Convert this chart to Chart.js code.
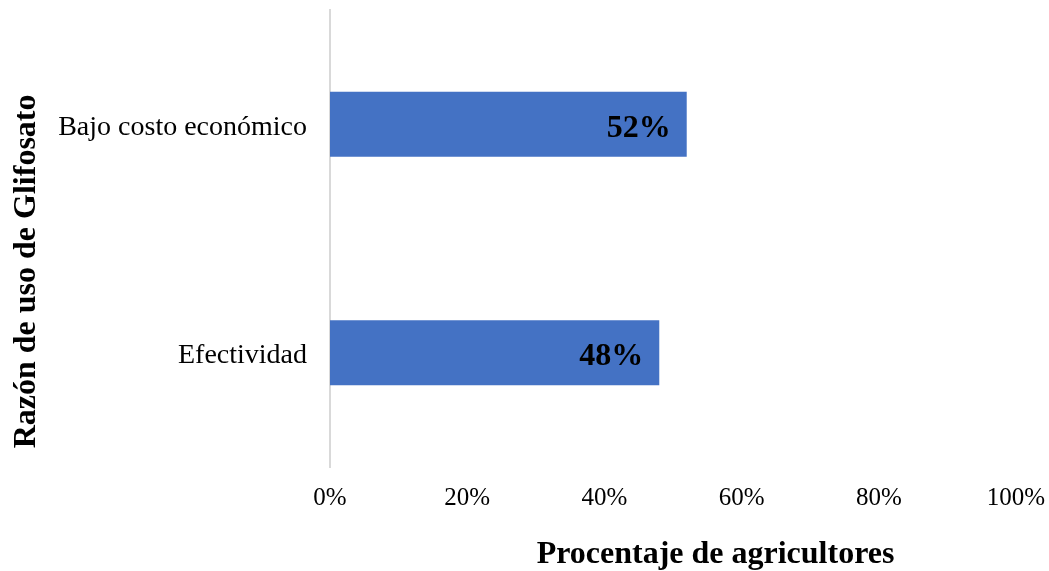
<!DOCTYPE html>
<html lang="es">
<head>
    <meta charset="UTF-8">
    <title>Razón de uso de Glifosato</title>
    <script src="https://cdn.jsdelivr.net/npm/chart.js"></script>
    <style>
        body { margin: 0; background: #fff; }
        #wrap { width: 1049px; height: 571px; }
    </style>
</head>
<body>
    <div id="wrap"><canvas id="razonChart" width="1049" height="571"></canvas></div>
    <script>
        const categories = ['Bajo costo económico', 'Efectividad'];
        const percentages = [52, 48];
        const xTicks = [0, 20, 40, 60, 80, 100];
        const xTitle = 'Procentaje de agricultores';
        const yTitle = 'Razón de uso de Glifosato';

        const serif = '"Liberation Serif", "Times New Roman", serif';

        // value labels inside the bars, right aligned
        const barLabels = {
            id: 'barLabels',
            afterDatasetsDraw(chart) {
                const ctx = chart.ctx;
                const meta = chart.getDatasetMeta(0);
                ctx.save();
                ctx.font = 'bold 32px ' + serif;
                ctx.fillStyle = '#000';
                ctx.textAlign = 'right';
                ctx.textBaseline = 'middle';
                meta.data.forEach((bar, i) => {
                    ctx.fillText(percentages[i] + '%', bar.x - 16, bar.y + 4);
                });
                ctx.restore();
            }
        };

        // axis titles, placed like the original
        const axisTitles = {
            id: 'axisTitles',
            afterDraw(chart) {
                const ctx = chart.ctx;
                const area = chart.chartArea;
                ctx.save();
                ctx.font = 'bold 32px ' + serif;
                ctx.fillStyle = '#000';
                ctx.textAlign = 'center';
                ctx.textBaseline = 'middle';
                ctx.fillText(xTitle, area.left + (area.right - area.left) * 0.562, 555);
                ctx.translate(27, area.top + (area.bottom - area.top) * 0.572);
                ctx.rotate(-Math.PI / 2);
                ctx.fillText(yTitle, 0, 0);
                ctx.restore();
            }
        };

        const ctx = document.getElementById('razonChart').getContext('2d');
        const chart = new Chart(ctx, {
            type: 'bar',
            data: {
                labels: categories,
                datasets: [{
                    data: percentages,
                    backgroundColor: '#4472C4',
                    categoryPercentage: 1,
                    barPercentage: 0.285
                }]
            },
            options: {
                indexAxis: 'y',
                responsive: false,
                animation: false,
                layout: { padding: { top: 10, right: 33, left: 0, bottom: 0 } },
                plugins: {
                    legend: { display: false },
                    tooltip: { enabled: false }
                },
                scales: {
                    x: {
                        min: 0,
                        max: 100,
                        afterBuildTicks(scale) {
                            scale.ticks = xTicks.map(v => ({ value: v }));
                        },
                        afterFit(scale) {
                            scale.height = 104;
                            scale.paddingLeft = 0;
                            scale.paddingRight = 0;
                        },
                        grid: { display: false, drawTicks: false },
                        border: { display: false },
                        ticks: {
                            padding: 16,
                            color: '#000',
                            font: { family: serif, size: 25 },
                            callback: v => v + '%'
                        }
                    },
                    y: {
                        afterFit(scale) {
                            scale.width = 330;
                            scale.paddingTop = 0;
                            scale.paddingBottom = 0;
                        },
                        grid: { display: false, drawTicks: false },
                        border: { display: true, color: '#d9d9d9', width: 2 },
                        ticks: {
                            padding: 23,
                            labelOffset: 3,
                            color: '#000',
                            font: { family: serif, size: 28 }
                        }
                    }
                }
            },
            plugins: [barLabels, axisTitles]
        });
    </script>
</body>
</html>
